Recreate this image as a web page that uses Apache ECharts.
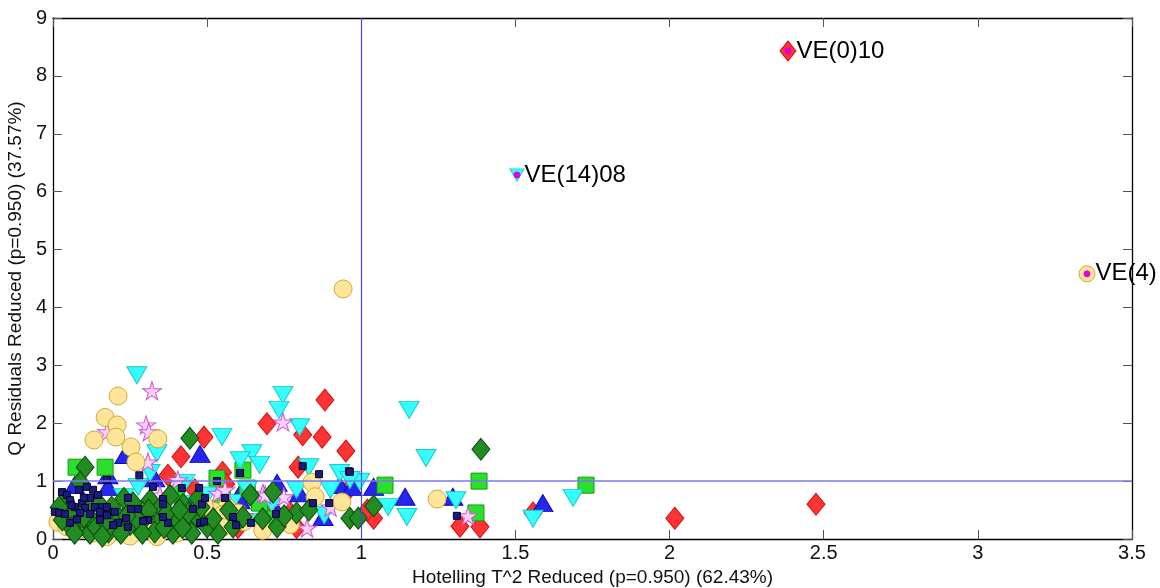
<!DOCTYPE html>
<html>
<head>
<meta charset="utf-8">
<title>Hotelling T^2 vs Q Residuals</title>
<script src="https://cdn.jsdelivr.net/npm/echarts@6/dist/echarts.min.js"></script>
<style>
  html, body { margin: 0; padding: 0; background: #fff; }
  #chart { width: 1160px; height: 588px; }
</style>
</head>
<body>
<div id="chart"></div>
<script>
// axis ticks
var xTicks = [0, 0.5, 1, 1.5, 2, 2.5, 3, 3.5];
var yTicks = [0, 1, 2, 3, 4, 5, 6, 7, 8, 9];
var tLimit = 1;   // Hotelling T^2 limit
var qLimit = 1;   // Q residual limit

// points per class, [T^2 reduced, Q reduced]
var redDiamonds = [[0.882,2.40],[0.873,1.76],[0.950,1.52],[0.694,1.99],[0.49,1.76],[0.415,1.42],[0.81,1.80],
  [0.795,1.24],[0.55,1.15],[0.373,1.10],[1.04,0.36],[1.32,0.22],[1.385,0.21],[1.02,0.5],[1.557,0.45],
  [2.017,0.36],[2.475,0.60],[0.79,0.2],[0.77,0.45],[0.46,0.85],[0.6,0.2],[0.95,0.8],[0.7,0.5],[0.43,0.3],[0.56,0.95]];
var blueTriangles = [[0.477,1.47],[0.178,1.1],[0.178,0.9],[0.93,0.93],[1.04,0.9],[0.97,0.9],[0.876,0.38],
  [0.80,0.79],[0.607,0.79],[1.142,0.73],[1.297,0.73],[1.589,0.62],[0.233,1.45],[0.33,1.05],[0.07,0.93],
  [0.727,0.97],[0.607,0.67],[0.47,0.55],[0.73,0.45],[0.54,0.3]];
var greenSquares = [[0.075,1.24],[0.169,1.24],[0.532,1.05],[0.616,1.19],[0.63,0.88],[1.077,0.93],[1.382,1.0],
  [1.372,0.45],[1.729,0.93],[0.67,0.62],[0.4,0.78],[0.46,0.45],[0.72,0.35],[0.28,0.5],[0.55,0.7]];
var cyanTriangles = [[0.272,2.83],[0.746,2.49],[0.733,2.23],[0.80,1.93],[1.155,2.23],[1.21,1.40],[0.548,1.76],
  [0.337,1.48],[0.645,1.48],[0.607,1.36],[0.67,1.28],[0.83,1.24],[0.93,1.14],[0.995,0.99],[0.963,1.02],
  [0.88,0.41],[0.79,0.85],[0.71,0.62],[0.665,0.29],[1.087,0.55],[1.148,0.38],[1.307,0.67],[1.557,0.35],
  [1.687,0.71],[0.315,1.14],[0.276,0.9],[0.428,0.97],[0.5,0.75],[0.58,0.62],[0.23,0.72],[0.9,0.85],[0.45,0.6],[0.63,0.85]];
var pinkStars = [[0.321,2.56],[0.302,1.97],[0.311,1.85],[0.308,1.33],[0.746,2.02],[0.405,1.02],[0.824,0.19],
  [0.749,0.73],[0.535,0.79],[0.681,0.79],[0.347,0.76],[0.45,0.16],[0.175,1.85],[1.346,0.40],[0.558,0.85],
  [0.688,0.76],[0.27,0.45],[0.62,0.4],[0.2,0.2],[0.9,0.55]];
var yellowCircles = [[0.941,4.32],[0.211,2.47],[0.169,2.1],[0.208,1.97],[0.133,1.71],[0.204,1.76],[0.253,1.59],
  [0.269,1.33],[0.34,1.73],[0.84,0.98],[0.85,0.73],[0.937,0.64],[1.246,0.69],[0.016,0.29],[0.045,0.21],
  [0.13,0.1],[0.175,0.04],[0.337,0.04],[0.305,0.16],[0.564,0.55],[0.52,0.48],[0.55,0.42],[0.6,0.45],
  [0.55,0.2],[0.68,0.15],[0.77,0.25],[0.25,0.05],[0.4,0.1],[0.08,0.15],[0.49,0.58],[0.62,0.3]];
var darkGreenDiamonds = [[0.104,1.24],[0.444,1.74],[0.714,0.81],[0.963,0.36],[1.04,0.57],[0.088,0.98],[1.388,1.55],
  [0.99,0.36],[0.79,0.45],[0.727,0.21],[0.64,0.76],[0.616,0.38],[0.535,0.10],[0.584,0.21],[0.04,0.67],
  [0.055,0.41],[0.088,0.28],[0.12,0.1],[0.162,0.38],[0.208,0.21],[0.25,0.5],[0.282,0.16],[0.315,0.67],
  [0.347,0.33],[0.389,0.1],[0.422,0.6],[0.467,0.38],[0.5,0.21],[0.15,0.6],[0.2,0.45],[0.35,0.55],[0.45,0.1],
  [0.3,0.38],[0.11,0.5],[0.25,0.25],[0.4,0.35],[0.18,0.12],[0.48,0.55],[0.57,0.5],[0.68,0.35],[0.75,0.4],
  [0.83,0.5],[0.33,0.12],[0.23,0.7],[0.38,0.75],[0.13,0.3],[0.02,0.55],[0.06,0.2],[0.1,0.38],[0.14,0.2],
  [0.17,0.3],[0.22,0.1],[0.27,0.35],[0.29,0.1],[0.36,0.2],[0.42,0.2],[0.44,0.45],[0.52,0.35],[0.37,0.45],
  [0.07,0.1],[0.19,0.55],[0.26,0.62],[0.47,0.7],[0.31,0.5],[0.03,0.33],[0.16,0.05],[0.24,0.4],[0.41,0.5]];
var navySquares = [[0.81,1.26],[0.863,1.12],[0.96,1.17],[0.607,1.14],[0.532,1.0],[0.474,0.88],[0.418,0.88],
  [0.324,0.9],[0.28,1.1],[0.243,0.71],[0.357,0.69],[0.357,0.6],[0.483,0.6],[0.493,0.71],[0.454,0.52],
  [0.584,0.38],[0.594,0.24],[0.642,0.28],[0.723,0.43],[0.843,0.62],[0.896,0.62],[0.558,0.71],[0.477,0.28],
  [0.49,0.3],[0.373,0.28],[0.357,0.38],[0.308,0.33],[0.292,0.31],[0.276,0.52],[0.253,0.52],[0.237,0.36],
  [0.211,0.28],[0.195,0.24],[0.243,0.21],[0.006,0.47],[0.02,0.45],[0.039,0.43],[0.029,0.81],[0.045,0.76],
  [0.055,0.67],[0.084,0.85],[0.11,0.9],[0.13,0.85],[0.146,0.76],[0.175,1.02],[0.12,0.71],[0.094,0.62],
  [0.071,0.55],[0.104,0.54],[0.136,0.55],[0.159,0.55],[0.175,0.55],[0.088,0.45],[0.12,0.43],[0.152,0.47],
  [0.175,0.41],[0.2,0.47],[0.055,0.28],[0.078,0.34],[0.152,0.33],[0.1,0.71],[0.963,1.16],[1.31,0.40],[0.06,0.58]];

// labelled outliers
var outlierNames = ['VE(0)10', 'VE(14)08', 'VE(4)'];
var outlierPoints = [[2.384,8.43],[1.505,6.29],[3.354,4.58]];

var starPath = 'path://M50,0 L61,35 L98,35 L68,57 L79,91 L50,70 L21,91 L32,57 L2,35 L39,35 Z';
var FONT = 'Liberation Sans, Arial, sans-serif';

var getScatter = function(name, data, symbol, size, fill, edge, rotate){
    return {
        name: name,
        type: 'scatter',
        data: data,
        symbol: symbol,
        symbolSize: size,
        symbolRotate: rotate || 0,
        silent: true,
        itemStyle: {color: fill, borderColor: edge, borderWidth: 1, opacity: 1}
    };
};

var series = [
    getScatter('red', redDiamonds, 'diamond', [18,22], '#ff3333', '#d01010'),
    getScatter('blue', blueTriangles, 'triangle', [20,17], '#2626ee', '#0a0ac0'),
    getScatter('green', greenSquares, 'rect', [16,16], '#2be02b', '#139913'),
    getScatter('cyan', cyanTriangles, 'triangle', [20,17], '#33ffff', '#1fc8c8', 180),
    getScatter('pink', pinkStars, starPath, [19,18], '#ffd0ff', '#cc55cc'),
    getScatter('yellow', yellowCircles, 'circle', 18, '#ffe59a', '#d4a832'),
    getScatter('darkgreen', darkGreenDiamonds, 'diamond', [18,22], '#228b22', '#0d4a0d'),
    getScatter('navy', navySquares, 'rect', [7,7], '#1c1c80', '#000022')
];

// outliers: base marker + magenta dot + name
var outlierSyms = [['diamond',[16,20],'#ff3333','#d01010',0],['triangle',[14,12],'#33ffff','#1fc8c8',180],['circle',16,'#ffe59a','#d4a832',0]];
for (var i = 0; i < outlierPoints.length; i++) {
    var s = outlierSyms[i];
    var o = getScatter(outlierNames[i], [outlierPoints[i]], s[0], s[1], s[2], s[3], s[4]);
    o.label = {
        show: true, position: 'right', distance: 0,
        formatter: outlierNames[i],
        fontFamily: FONT, fontSize: 24, color: '#000'
    };
    series.push(o);
    series.push(getScatter('dot' + i, [outlierPoints[i]], 'circle', 6, '#e000e0', '#e000e0'));
}

// limit lines
series.push({
    type: 'line',
    data: [],
    silent: true,
    markLine: {
        silent: true,
        symbol: 'none',
        label: {show: false},
        animation: false,
        data: [
            {xAxis: tLimit, lineStyle: {color: '#4646e0', width: 1.2, type: 'solid', opacity: 1}},
            {yAxis: qLimit, lineStyle: {color: '#7a7aec', width: 1.6, type: 'solid', opacity: 1}}
        ]
    }
});

var tickStyle = {show: true, inside: true, length: 9, lineStyle: {color: '#555', width: 1}};
var lineStyle = {show: true, onZero: false, lineStyle: {color: '#000', width: 1.3}};

var option = {
    animation: false,
    backgroundColor: '#fff',
    grid: {left: 53, right: 28, top: 18, bottom: 49, containLabel: false, outerBoundsMode: 'none'},
    xAxis: [{
        type: 'value', min: 0, max: 3.5, interval: 0.5,
        name: 'Hotelling T^2 Reduced (p=0.950) (62.43%)',
        nameLocation: 'middle', nameGap: 27,
        nameTextStyle: {fontFamily: FONT, fontSize: 19, color: '#111'},
        axisLine: lineStyle, axisTick: tickStyle, splitLine: {show: false},
        axisLabel: {fontFamily: FONT, fontSize: 20, color: '#111', margin: 4,
            formatter: function(v){ return xTicks.indexOf(v) >= 0 ? String(v) : ''; }}
    }, {
        type: 'value', min: 0, max: 3.5, interval: 0.5, position: 'top',
        axisLine: lineStyle, axisTick: tickStyle, splitLine: {show: false}, axisLabel: {show: false}
    }],
    yAxis: [{
        type: 'value', min: 0, max: 9, interval: 1,
        name: 'Q Residuals Reduced (p=0.950) (37.57%)',
        nameLocation: 'middle', nameGap: 28, nameRotate: 90,
        nameTextStyle: {fontFamily: FONT, fontSize: 19, color: '#111'},
        axisLine: lineStyle, axisTick: tickStyle, splitLine: {show: false},
        axisLabel: {fontFamily: FONT, fontSize: 20, color: '#111', margin: 6,
            formatter: function(v){ return yTicks.indexOf(v) >= 0 ? String(v) : ''; }}
    }, {
        type: 'value', min: 0, max: 9, interval: 1, position: 'right',
        axisLine: lineStyle, axisTick: tickStyle, splitLine: {show: false}, axisLabel: {show: false}
    }],
    series: series
};

var chart = echarts.init(document.getElementById('chart'));
chart.setOption(option);
</script>
</body>
</html>
